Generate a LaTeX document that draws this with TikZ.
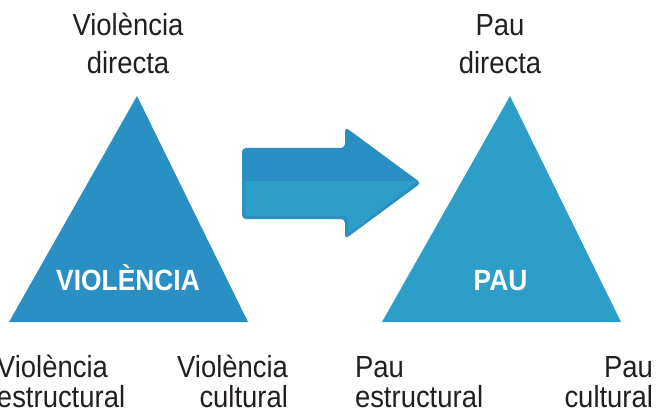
\documentclass[tikz,border=0pt]{standalone}
\usepackage{fontspec}
\setmainfont[FakeStretch=0.9]{Liberation Sans}
\begin{document}
\begin{tikzpicture}[x=1pt,y=-1pt,
  lbl/.style={inner sep=0pt,outer sep=0pt,text=txtgray,font=\fontsize{30.5}{38}\selectfont},
  lblb/.style={lbl,font=\fontsize{30.5}{30}\selectfont},
  inlbl/.style={inner sep=0pt,text=white,font=\fontsize{29.3}{30}\selectfont\bfseries,anchor=base}]
\definecolor{txtgray}{HTML}{231F20}
\definecolor{violblue}{HTML}{2A8FC3}
\definecolor{paublue}{HTML}{2C9EC8}
\useasboundingbox (0,0) rectangle (657,412);
\fill[white] (0,0) rectangle (657,412);
% triangles
\fill[violblue] (137,96) -- (248,322) -- (9,322) -- cycle;
\fill[paublue] (510,96) -- (621,322) -- (382,322) -- cycle;
% arrow
\fill[violblue,rounded corners=4pt] (242,148) -- (345,148) -- (345,127) -- (421,183) -- (345,239) -- (345,219) -- (242,219) -- cycle;
\fill[paublue,rounded corners=3pt] (245,181) -- (418,181) -- (348,234) -- (348,216) -- (245,216) -- cycle;
% labels (anchored at the baseline of the last line)
\node[lbl,align=center,anchor=base] (vd) at (128,74) {Violència\\directa};
\node[lbl,align=center,anchor=base] (pd) at (500,74) {Pau\\directa};
\node[lblb,align=left,anchor=base west] (ve) at (-3,407) {Violència\\estructural};
\node[lblb,align=right,anchor=base east] (vc) at (288,407) {Violència\\cultural};
\node[lblb,align=left,anchor=base west] (pe) at (355,407) {Pau\\estructural};
\node[lblb,align=right,anchor=base east] (pc) at (653,407) {Pau\\cultural};
\node[inlbl] (vio) at (128,290) {VIOLÈNCIA};
\node[inlbl] (pau) at (500.5,290) {PAU};
\end{tikzpicture}
\end{document}
